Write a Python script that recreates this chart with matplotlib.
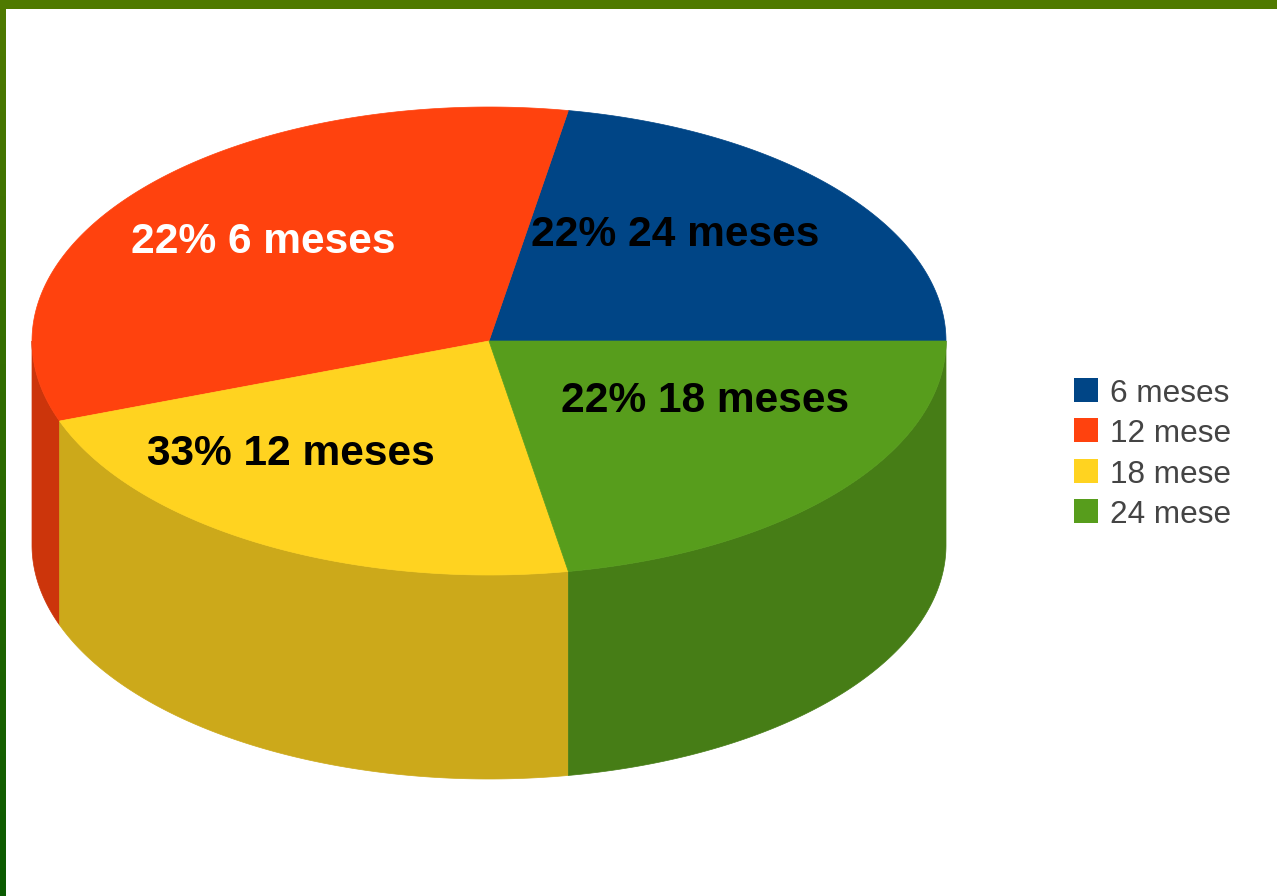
import numpy as np
import matplotlib
matplotlib.use('Agg')
import matplotlib.pyplot as plt
from matplotlib.colors import LinearSegmentedColormap

plt.rcParams['font.family'] = ['Liberation Sans', 'DejaVu Sans']

# Chart data
categories = ['6 meses', '12 mese', '18 mese', '24 mese']
values = [22, 33, 22, 22]
labels = ['22% 24 meses', '22% 6 meses', '33% 12 meses', '22% 18 meses']
label_colors = ['black', 'white', 'black', 'black']
top_colors = ['#004586', '#ff420e', '#ffd320', '#579d1c']
side_colors = ['#00376b', '#cc350b', '#cca91a', '#467d16']

# Pie geometry in image pixels
cx, cy = 489, 341
rx, ry = 457, 234
depth = 204
label_pos = [(675.5, 235), (263, 242), (290.5, 454), (705.5, 401)]

fig = plt.figure(figsize=(12.77, 8.96), dpi=100)
ax = fig.add_axes([0, 0, 1, 1])
ax.axis('off')

# Frame: olive at the top, going darker green down the left side
frame = LinearSegmentedColormap.from_list('frame', ['#4f7a00', '#0a5a00'])
ax.imshow(np.linspace(0, 1, 256).reshape(-1, 1), cmap=frame, extent=[0, 6, 896, 0],
          aspect='auto', zorder=1)
ax.fill_between([0, 1277], 0, 9, color='#4f7a00', lw=0, zorder=1)
ax.set_xlim(0, 1277)
ax.set_ylim(896, 0)

# Slice angles come from the values
edges = np.cumsum([0] + values) / sum(values) * 2 * np.pi


def ell(t):
    return cx + rx * np.cos(t), cy - ry * np.sin(t)


# Side walls, only the front half (pi to 2pi) is visible
for i in range(len(values)):
    a = max(edges[i], np.pi)
    b = edges[i + 1]
    if b <= a:
        continue
    t = np.linspace(a, b, 200)
    x, y = ell(t)
    ax.fill(np.r_[x, x[::-1]], np.r_[y, y[::-1] + depth], color=side_colors[i],
            lw=0.5, zorder=2)

# Top slices
for i in range(len(values)):
    t = np.linspace(edges[i], edges[i + 1], 200)
    x, y = ell(t)
    ax.fill(np.r_[cx, x], np.r_[cy, y], color=top_colors[i], lw=0.5, zorder=3)

# Slice labels
for i in range(len(labels)):
    ax.text(label_pos[i][0], label_pos[i][1], labels[i], color=label_colors[i],
            fontsize=30.6, fontweight='bold', ha='center', va='center', zorder=4)

# Legend
legend_y = [390, 430, 471, 511]
for i in range(len(categories)):
    ax.fill([1074, 1098, 1098, 1074],
            [legend_y[i] - 12, legend_y[i] - 12, legend_y[i] + 12, legend_y[i] + 12],
            color=top_colors[i], lw=0, zorder=4)
    ax.text(1110, legend_y[i] + 4, categories[i], color='#444444', fontsize=22.7,
            ha='left', va='center', zorder=4)

fig.savefig('out.png', dpi=100, facecolor='white')
